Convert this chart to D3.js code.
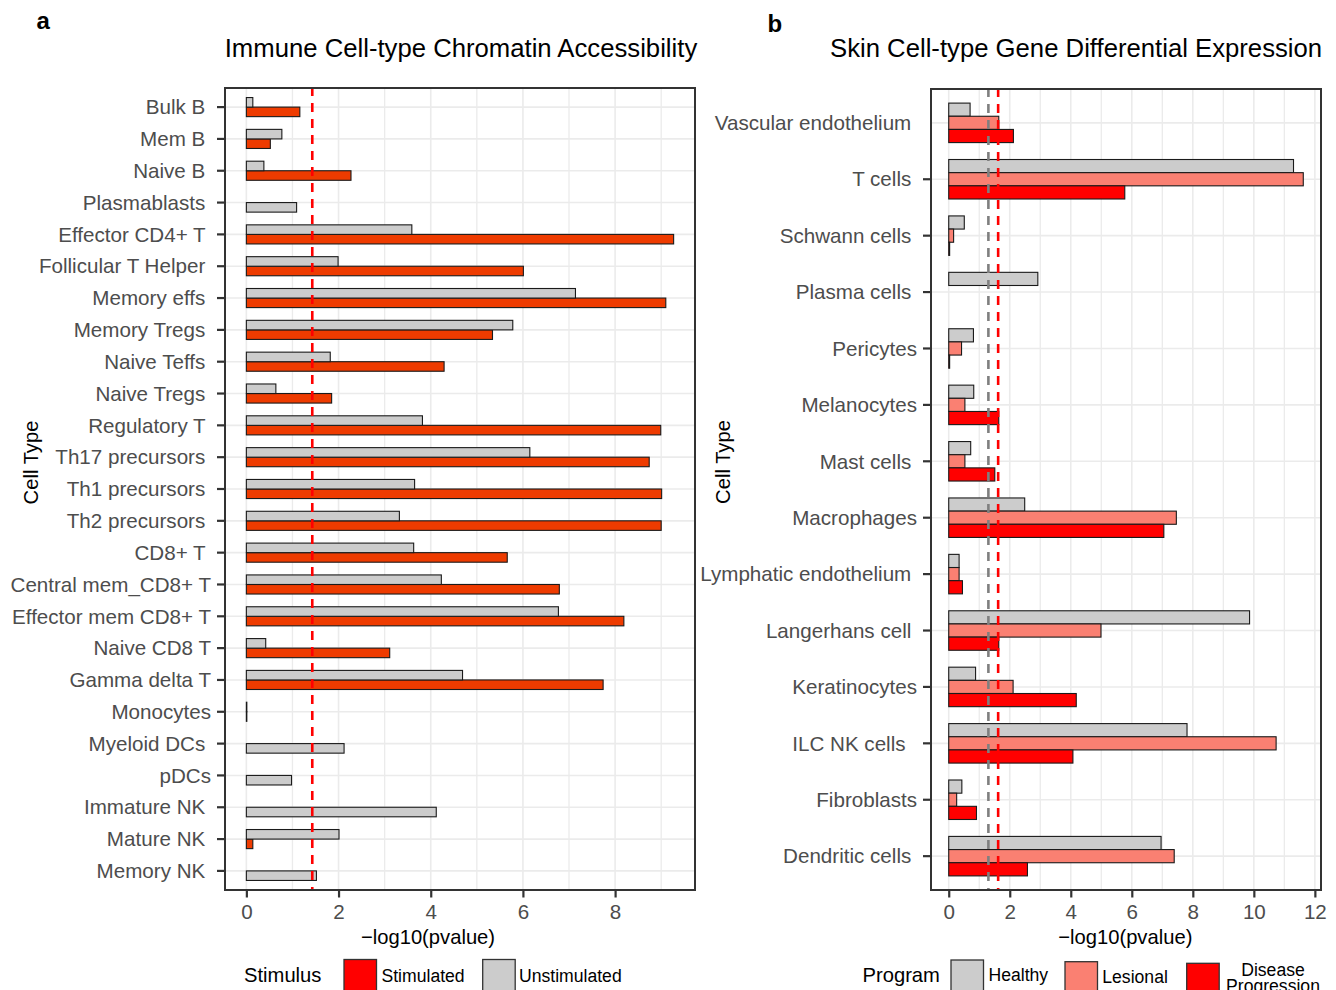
<!DOCTYPE html>
<html>
<head>
<meta charset="utf-8">
<script src="https://cdn.jsdelivr.net/npm/d3@7"></script>
<style>
  html, body { margin: 0; padding: 0; background: #fff; }
  svg text { font-family: "Liberation Sans", Arial, Helvetica, sans-serif; white-space: pre; }
</style>
</head>
<body>
<svg id="chart" width="1336" height="990"></svg>
<script>
// ---------------- Panel a data ----------------
const immuneCells = ["Bulk B ", "Mem B ", "Naive B ", "Plasmablasts ", "Effector CD4+ T ",
  "Follicular T Helper ", "Memory effs ", "Memory Tregs ", "Naive Teffs ", "Naive Tregs ",
  "Regulatory T ", "Th17 precursors ", "Th1 precursors ", "Th2 precursors ", "CD8+ T ",
  "Central mem_CD8+ T", "Effector mem CD8+ T", "Naive CD8 T", "Gamma delta T", "Monocytes",
  "Myeloid DCs ", "pDCs", "Immature NK ", "Mature NK ", "Memory NK "];
const stimulated = [1.16, 0.52, 2.27, null, 9.27, 6.01, 9.10, 5.34, 4.29, 1.85,
  8.99, 8.74, 9.01, 9.00, 5.66, 6.79, 8.19, 3.11, 7.74, 0.01,
  null, null, null, 0.14, null];
const unstimulated = [0.14, 0.77, 0.38, 1.09, 3.59, 1.99, 7.14, 5.78, 1.82, 0.64,
  3.82, 6.15, 3.65, 3.32, 3.63, 4.23, 6.77, 0.42, 4.69, 0.01,
  2.12, 0.98, 4.12, 2.01, 1.52];
const stimulusLevels = ["Stimulated", "Unstimulated"];
const thresholdA = 1.43;
const ticksA = [0, 2, 4, 6, 8];

// ---------------- Panel b data ----------------
const skinCells = ["Vascular endothelium ", "T cells ", "Schwann cells ", "Plasma cells ",
  "Pericytes", "Melanocytes", "Mast cells ", "Macrophages", "Lymphatic endothelium ",
  "Langerhans cell ", "Keratinocytes", "ILC NK cells  ", "Fibroblasts", "Dendritic cells "];
const healthy  = [0.70, 11.30, 0.51, 2.92, 0.81, 0.82, 0.72, 2.49, 0.34, 9.86, 0.88, 7.81, 0.43, 6.96];
const lesional = [1.64, 11.62, 0.16, null, 0.42, 0.53, 0.53, 7.46, 0.34, 4.99, 2.11, 10.73, 0.26, 7.39];
const disease  = [2.12, 5.77, 0.03, null, 0.03, 1.64, 1.51, 7.05, 0.45, 1.64, 4.18, 4.07, 0.91, 2.58];
const programLevels = ["Healthy", "Lesional", "Disease Progression"];
const thresholdsB = [1.30, 1.62];
const ticksB = [0, 2, 4, 6, 8, 10, 12];

// ---------------- Styles ----------------
const FONT_TICK = 20.6, FONT_TITLE = 25.7, FONT_AXIS = 20.2, FONT_LEG = 17.6;
const svg = d3.select("#chart");
const grid = "#EBEBEB";

function ggExpand(maxV) { return [-0.05 * maxV, maxV * 1.05]; }

function drawPanel(opts) {
  const {left, right, top, bottom, cats, xDomain, majors, minors, barsFn, vlines, noTick} = opts;
  const x = d3.scaleLinear().domain(xDomain).range([left, right]);
  const y = d3.scaleBand().domain(cats).range([top, bottom]).paddingInner(0).paddingOuter(0.1);
  const g = svg.append("g");
  g.append("rect").attr("x", left).attr("y", top).attr("width", right - left).attr("height", bottom - top)
    .attr("fill", "#fff");
  // gridlines
  g.selectAll(".vmin").data(minors).enter().append("line")
    .attr("x1", d => x(d)).attr("x2", d => x(d)).attr("y1", top).attr("y2", bottom)
    .attr("stroke", grid).attr("stroke-width", 1.3);
  g.selectAll(".vmaj").data(majors).enter().append("line")
    .attr("x1", d => x(d)).attr("x2", d => x(d)).attr("y1", top).attr("y2", bottom)
    .attr("stroke", grid).attr("stroke-width", 1.6);
  g.selectAll(".hmaj").data(cats).enter().append("line")
    .attr("x1", left).attr("x2", right)
    .attr("y1", d => y(d) + y.bandwidth() / 2).attr("y2", d => y(d) + y.bandwidth() / 2)
    .attr("stroke", grid).attr("stroke-width", 1.6);
  // bars
  barsFn(g, x, y);
  // threshold lines
  vlines.forEach(v => {
    g.append("line").attr("x1", x(v.value)).attr("x2", x(v.value)).attr("y1", top).attr("y2", bottom)
      .attr("stroke", v.color).attr("stroke-width", 2.6).attr("stroke-dasharray", "9,7")
      .attr("stroke-dashoffset", 1);
  });
  // border
  g.append("rect").attr("x", left).attr("y", top).attr("width", right - left).attr("height", bottom - top)
    .attr("fill", "none").attr("stroke", "#333").attr("stroke-width", 2);

  // y axis
  const ya = svg.append("g").attr("transform", `translate(${left - 1},0)`)
    .call(d3.axisLeft(y).tickSize(7).tickPadding(6));
  ya.select(".domain").remove();
  ya.selectAll(".tick line").attr("stroke", "#333").attr("stroke-width", 2.2)
    .attr("display", d => (noTick && noTick.includes(d)) ? "none" : null);
  ya.selectAll(".tick text").attr("fill", "#4D4D4D").style("font-size", FONT_TICK + "px")
    .attr("font-family", null).attr("dy", "0.35em");

  // x axis
  const xa = svg.append("g").attr("transform", `translate(0,${bottom + 1})`)
    .call(d3.axisBottom(x).tickValues(majors).tickSize(6.5).tickPadding(7).tickFormat(d3.format("d")));
  xa.select(".domain").remove();
  xa.selectAll(".tick line").attr("stroke", "#333").attr("stroke-width", 2.2);
  xa.selectAll(".tick text").attr("fill", "#4D4D4D").style("font-size", FONT_TICK + "px")
    .attr("font-family", null);
  return {x, y};
}

// ---------------- Panel a ----------------
const maxA = d3.max(stimulated.concat(unstimulated).filter(v => v != null));
drawPanel({
  left: 225, right: 695, top: 88, bottom: 890,
  cats: immuneCells, xDomain: ggExpand(maxA),
  majors: ticksA, minors: [1, 3, 5, 7, 9],
  vlines: [{value: thresholdA, color: "#FF0000"}],
  barsFn: (g, x, y) => {
    const rows = [];
    immuneCells.forEach((c, i) => {
      const present = [];
      if (stimulated[i] != null) present.push({key: "Stimulated", v: stimulated[i]});
      if (unstimulated[i] != null) present.push({key: "Unstimulated", v: unstimulated[i]});
      present.forEach((p, k) => rows.push({cat: c, key: p.key, v: p.v, slot: k}));
    });
    const bw = y.bandwidth() * 0.3;
    const center = c => y(c) + y.bandwidth() / 2;
    g.selectAll(".barA").data(rows).enter().append("rect")
      .attr("x", x(0))
      .attr("width", d => Math.max(0, x(d.v) - x(0)))
      .attr("y", d => d.slot === 0 ? center(d.cat) : center(d.cat) - bw)
      .attr("height", bw)
      .attr("fill", d => d.key === "Stimulated" ? "#EE3B00" : "#CCCCCC")
      .attr("stroke", "#1a1a1a").attr("stroke-width", 1.1);
  }
});

// ---------------- Panel b ----------------
const maxB = d3.max(healthy.concat(lesional, disease).filter(v => v != null));
const progSeries = [healthy, lesional, disease];
const progColors = ["#CCCCCC", "#FA8072", "#FF0000"];
drawPanel({
  left: 931, right: 1321, top: 89, bottom: 890,
  cats: skinCells, xDomain: ggExpand(maxB),
  majors: ticksB, minors: [1, 3, 5, 7, 9, 11],
  vlines: [{value: thresholdsB[0], color: "#7F7F7F"}, {value: thresholdsB[1], color: "#FF0000"}],
  noTick: ["Vascular endothelium "],
  barsFn: (g, x, y) => {
    const rows = [];
    skinCells.forEach((c, i) => {
      progSeries.forEach((s, k) => { if (s[i] != null) rows.push({cat: c, k, v: s[i]}); });
    });
    const bw = y.bandwidth() * 0.7 / 3;
    const center = c => y(c) + y.bandwidth() / 2;
    g.selectAll(".barB").data(rows).enter().append("rect")
      .attr("x", x(0))
      .attr("width", d => Math.max(0, x(d.v) - x(0)))
      .attr("y", d => center(d.cat) - 1.5 * bw + d.k * bw)
      .attr("height", bw)
      .attr("fill", d => progColors[d.k])
      .attr("stroke", "#1a1a1a").attr("stroke-width", 1.1);
  }
});

// ---------------- Titles & labels ----------------
svg.append("text").text("a").attr("x", 36.5).attr("y", 29.3).style("font-size", "24px").style("font-weight", "bold");
svg.append("text").text("b").attr("x", 767.5).attr("y", 31.5).style("font-size", "24px").style("font-weight", "bold");
svg.append("text").text("Immune Cell-type Chromatin Accessibility").attr("x", 461).attr("y", 57.3)
  .attr("text-anchor", "middle").style("font-size", FONT_TITLE + "px");
svg.append("text").text("Skin Cell-type Gene Differential Expression").attr("x", 830).attr("y", 56.7)
  .style("font-size", FONT_TITLE + "px");
svg.append("text").text("Cell Type").attr("transform", "translate(38,462.5) rotate(-90)")
  .attr("text-anchor", "middle").style("font-size", FONT_AXIS + "px");
svg.append("text").text("Cell Type").attr("transform", "translate(729.5,462) rotate(-90)")
  .attr("text-anchor", "middle").style("font-size", FONT_AXIS + "px");
svg.append("text").text("\u2212log10(pvalue)").attr("x", 428).attr("y", 944)
  .attr("text-anchor", "middle").style("font-size", FONT_AXIS + "px");
svg.append("text").text("\u2212log10(pvalue)").attr("x", 1125.3).attr("y", 944)
  .attr("text-anchor", "middle").style("font-size", FONT_AXIS + "px");

// ---------------- Legends ----------------
svg.append("text").text("Stimulus").attr("x", 244).attr("y", 981.7).style("font-size", FONT_AXIS + "px");
const legA = [
  {label: stimulusLevels[0], fill: "#FF0000", kx: 344, tx: 381.5, ky: 959.5},
  {label: stimulusLevels[1], fill: "#CCCCCC", kx: 482.7, tx: 519, ky: 959.5}
];
legA.forEach(d => {
  svg.append("rect").attr("x", d.kx).attr("y", d.ky).attr("width", 32.5).attr("height", 33)
    .attr("fill", d.fill).attr("stroke", "#333").attr("stroke-width", 1.3);
  svg.append("text").text(d.label).attr("x", d.tx).attr("y", 981.7).style("font-size", FONT_LEG + "px");
});

svg.append("text").text("Program").attr("x", 862.5).attr("y", 981.7).style("font-size", FONT_AXIS + "px");
const legB = [
  {fill: progColors[0], kx: 951, ky: 960},
  {fill: progColors[1], kx: 1065, ky: 961.7},
  {fill: progColors[2], kx: 1186.7, ky: 963.3}
];
legB.forEach(d => {
  svg.append("rect").attr("x", d.kx).attr("y", d.ky).attr("width", 32.5).attr("height", 33)
    .attr("fill", d.fill).attr("stroke", "#333").attr("stroke-width", 1.3);
});
svg.append("text").text(programLevels[0]).attr("x", 988.5).attr("y", 980.5).style("font-size", FONT_LEG + "px");
svg.append("text").text(programLevels[1]).attr("x", 1102.3).attr("y", 982.7).style("font-size", FONT_LEG + "px");
const dp = programLevels[2].split(" ");
svg.append("text").text(dp[0]).attr("x", 1273).attr("y", 975.5).attr("text-anchor", "middle").style("font-size", FONT_LEG + "px");
svg.append("text").text(dp[1]).attr("x", 1273).attr("y", 992).attr("text-anchor", "middle").style("font-size", FONT_LEG + "px");
</script>
</body>
</html>
